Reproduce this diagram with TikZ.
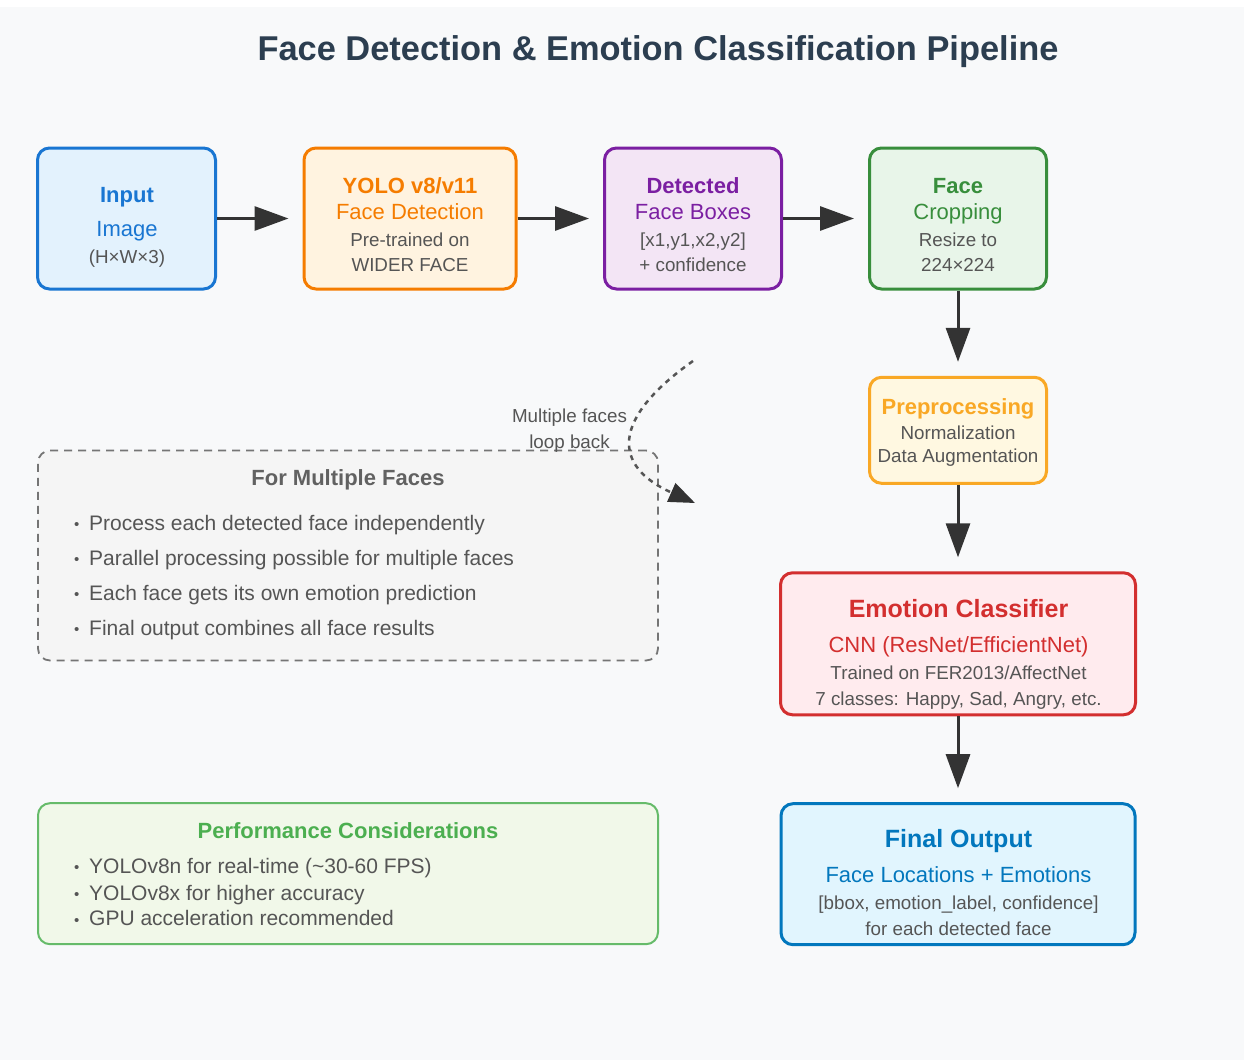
\documentclass[tikz,border=0pt]{standalone}
\usepackage{fontspec}
\setmainfont{Liberation Sans}
\usepackage{tikz}
\usetikzlibrary{arrows.meta}

\definecolor{bgpage}{HTML}{F8F9FA}
\definecolor{titleblue}{HTML}{2C3E50}
\definecolor{txtgray}{HTML}{555555}
\definecolor{arrowdark}{HTML}{333333}
\definecolor{cIn}{HTML}{1976D2}
\definecolor{cInBg}{HTML}{E3F2FD}
\definecolor{cYo}{HTML}{F57C00}
\definecolor{cYoBg}{HTML}{FFF3E0}
\definecolor{cDet}{HTML}{7B1FA2}
\definecolor{cDetBg}{HTML}{F3E5F5}
\definecolor{cCrop}{HTML}{388E3C}
\definecolor{cCropBg}{HTML}{E8F5E9}
\definecolor{cPre}{HTML}{F9A825}
\definecolor{cPreBg}{HTML}{FFF8E1}
\definecolor{cEmo}{HTML}{D32F2F}
\definecolor{cEmoBg}{HTML}{FFEBEE}
\definecolor{cOut}{HTML}{0277BD}
\definecolor{cOutBg}{HTML}{E1F5FE}
\definecolor{multiGray}{HTML}{757575}
\definecolor{multiHd}{HTML}{616161}
\definecolor{multiBg}{HTML}{F5F5F5}
\definecolor{perfGreen}{HTML}{66BB6A}
\definecolor{perfHd}{HTML}{4CAF50}
\definecolor{perfBg}{HTML}{F1F8E9}

\newcommand{\bul}{\makebox[15pt][l]{\raisebox{0.5pt}{\fontsize{15}{15}\selectfont •}}}

\begin{document}
\begin{tikzpicture}[x=1pt, y=-1pt,
    stage/.style={rounded corners=12pt, line width=3pt, inner sep=0pt, minimum width=177pt, minimum height=141pt},
    hd/.style={font=\bfseries\fontsize{22}{26}\selectfont, text=#1, anchor=base, inner sep=0pt},
    bighd/.style={font=\bfseries\fontsize{25}{30}\selectfont, text=#1, anchor=base, inner sep=0pt},
    sub/.style={font=\fontsize{22}{26}\selectfont, text=#1, anchor=base, inner sep=0pt},
    note/.style={font=\fontsize{18.8}{22}\selectfont, text=txtgray, anchor=base, inner sep=0pt},
    bulletline/.style={font=\fontsize{21}{25}\selectfont, text=txtgray, anchor=base west, inner sep=0pt},
    flow/.style={draw=arrowdark, line width=3pt, -{Triangle[length=34pt,width=24pt]}, shorten >=14pt},
    loopback/.style={draw=txtgray, line width=2.5pt, dash pattern=on 5pt off 5pt, -{Triangle[length=26pt,width=20pt,color=arrowdark]}},
  ]

        % page
        \fill[white] (0,0) rectangle (1244,1060);
        \fill[bgpage] (0,7) rectangle (1244,1060);
        \useasboundingbox (0,0) rectangle (1244,1060);

        \node[font=\bfseries\fontsize{34.4}{40}\selectfont, text=titleblue, anchor=base] (title) at (658,60) {Face Detection \& Emotion Classification Pipeline};

        % pipeline stages
        \node[stage, draw=cIn, fill=cInBg, minimum width=178pt] (input) at (126.5,218.5) {};
        \node[stage, draw=cYo, fill=cYoBg, minimum width=212pt] (yolo) at (410,218.5) {};
        \node[stage, draw=cDet, fill=cDetBg] (detected) at (693,218.5) {};
        \node[stage, draw=cCrop, fill=cCropBg] (crop) at (958,218.5) {};
        \node[stage, draw=cPre, fill=cPreBg, minimum height=106pt] (prep) at (958,430.3) {};
        \node[stage, draw=cEmo, fill=cEmoBg, minimum width=355pt, minimum height=142pt] (emotion) at (958,643.8) {};
        \node[stage, draw=cOut, fill=cOutBg, minimum width=354pt] (output) at (958,874.2) {};

        \node[hd=cIn] (inputA) at (127,202.7) {Input};
        \node[sub=cIn] (inputB) at (127,236.7) {Image};
        \node[note] (inputC) at (127,263.3) {(H×W×3)};

        \node[hd=cYo] (yoloA) at (410,193.3) {YOLO v8/v11};
        \node[sub=cYo] (yoloB) at (410,219.3) {Face Detection};
        \node[note] (yoloC) at (410,246) {Pre-trained on};
        \node[note] (yoloD) at (410,271.7) {WIDER FACE};

        \node[hd=cDet] (detectedA) at (693,193.3) {Detected};
        \node[sub=cDet] (detectedB) at (693,219.3) {Face Boxes};
        \node[note] (detectedC) at (693,246) {[x1,y1,x2,y2]};
        \node[note] (detectedD) at (693,271.7) {+ confidence};

        \node[hd=cCrop] (cropA) at (958,193.3) {Face};
        \node[sub=cCrop] (cropB) at (958,219.3) {Cropping};
        \node[note] (cropC) at (958,246) {Resize to};
        \node[note] (cropD) at (958,271.7) {224×224};

        \node[hd=cPre] (prepA) at (958,414.3) {Preprocessing};
        \node[note] (prepB) at (958,439) {Normalization};
        \node[note] (prepC) at (958,462.3) {Data Augmentation};

        \node[bighd=cEmo] (emotionA) at (958.5,617.3) {Emotion Classifier};
        \node[sub=cEmo] (emotionB) at (958.5,652.7) {CNN (ResNet/EfficientNet)};
        \node[note] (emotionC) at (958.5,679) {Trained on FER2013/AffectNet};
        \node[note] (emotionD) at (958.5,705.7) {7 classes: Happy, Sad, Angry, etc.};

        \node[bighd=cOut] (outputA) at (958.5,847.3) {Final Output};
        \node[sub=cOut] (outputB) at (958.5,882.7) {Face Locations + Emotions};
        \node[note] (outputC) at (958.5,909) {[bbox, emotion\_label, confidence]};
        \node[note] (outputD) at (958.5,935.7) {for each detected face};

        % side notes
        \node[rounded corners=12pt, draw=multiGray, fill=multiBg, line width=1.8pt, dash pattern=on 8pt off 6pt, minimum width=620pt, minimum height=210pt] (multi) at (348,555.5) {};
        \node[hd=multiHd] (multiA) at (348,485) {For Multiple Faces};
        \node[bulletline] (multiB) at (74,530) {\bul Process each detected face independently};
        \node[bulletline] (multiC) at (74,565) {\bul Parallel processing possible for multiple faces};
        \node[bulletline] (multiD) at (74,600) {\bul Each face gets its own emotion prediction};
        \node[bulletline] (multiE) at (74,635) {\bul Final output combines all face results};

        \node[rounded corners=12pt, draw=perfGreen, fill=perfBg, line width=2pt, minimum width=620pt, minimum height=141pt] (perf) at (348,873.7) {};
        \node[hd=perfHd] (perfA) at (348,838.3) {Performance Considerations};
        \node[bulletline] (perfB) at (74,873.3) {\bul YOLOv8n for real-time (\textasciitilde30-60 FPS)};
        \node[bulletline] (perfC) at (74,900) {\bul YOLOv8x for higher accuracy};
        \node[bulletline] (perfD) at (74,925.5) {\bul GPU acceleration recommended};

        % connectors
        \draw[flow] (input) -- (yolo);
        \draw[flow] (yolo) -- (detected);
        \draw[flow] (detected) -- (crop);
        \draw[flow] (crop.south) -- (prep.north);
        \draw[flow] (prep.south) -- (emotion.north);
        \draw[flow] (emotion.south) -- (output.north);

        \coordinate (loopA) at (693,361);
        \coordinate (loopB) at (695,503);
        \draw[loopback] (loopA) .. controls (611,419) and (612,466) .. (loopB);
        \node[note] (loopT1) at (569.5,422.7) {Multiple faces};
        \node[note] (loopT2) at (569.5,448.3) {loop back};

    \end{tikzpicture}
\end{document}
